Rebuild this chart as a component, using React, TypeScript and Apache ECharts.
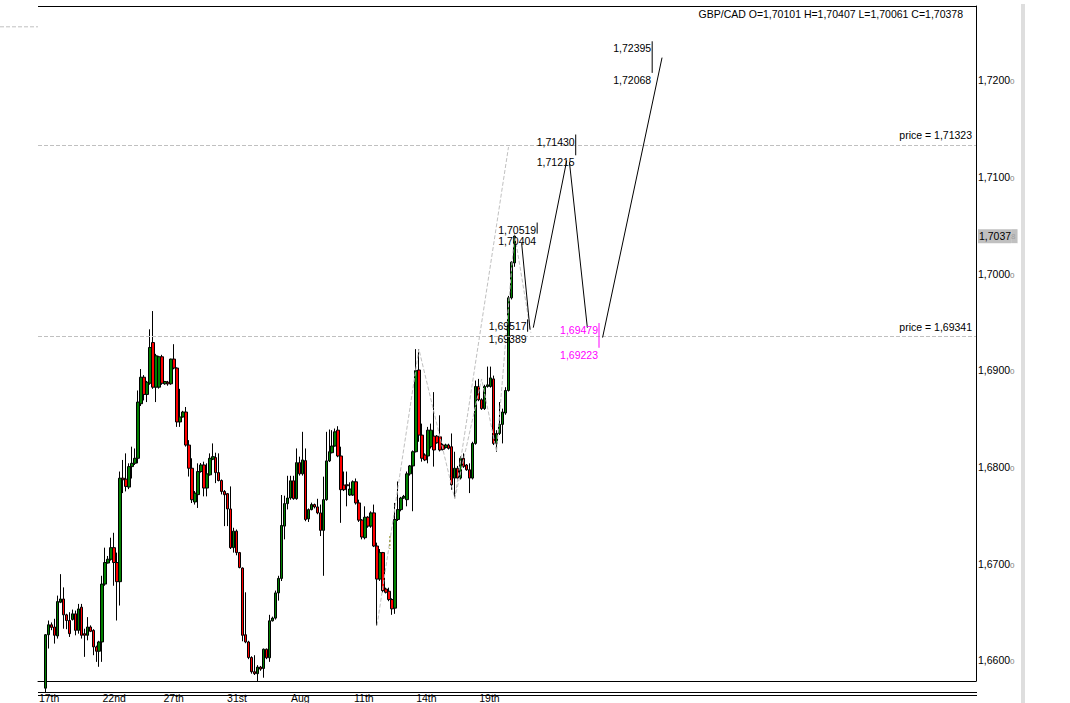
import React, { useEffect, useRef } from "react";
import * as echarts from "echarts";

// ---- data ----
const opens = [1.657,1.66253,1.66356,1.66333,1.6624,1.66589,1.66623,1.66459,1.664,1.66411,1.66469,1.66298,1.66538,1.66264,1.66247,1.66333,1.66298,1.66127,1.66082,1.66178,1.66777,1.66995,1.67034,1.67154,1.67,1.66802,1.67873,1.67863,1.67781,1.67993,1.68027,1.68079,1.68644,1.68918,1.6874,1.68856,1.69277,1.68815,1.68815,1.6913,1.6885,1.68866,1.6885,1.69106,1.69013,1.68455,1.68507,1.68558,1.68216,1.67976,1.67627,1.67703,1.67942,1.6801,1.67771,1.67908,1.6807,1.68086,1.67931,1.67849,1.67736,1.67713,1.67555,1.67154,1.67325,1.67103,1.66943,1.66253,1.66178,1.66017,1.6587,1.6585,1.65918,1.65904,1.66103,1.66014,1.66397,1.66425,1.66686,1.66836,1.67377,1.6761,1.67668,1.67846,1.67661,1.68034,1.67918,1.68055,1.67452,1.67548,1.676,1.67576,1.67514,1.67333,1.67651,1.68052,1.68137,1.68206,1.6837,1.68103,1.67802,1.67805,1.67699,1.67699,1.67836,1.67617,1.67439,1.67257,1.67469,1.67377,1.67514,1.67171,1.66829,1.67103,1.66726,1.66703,1.66617,1.66528,1.67446,1.67548,1.67668,1.67651,1.67918,1.68,1.68147,1.68993,1.68319,1.68113,1.68103,1.68199,1.68308,1.68308,1.68301,1.68216,1.68192,1.68216,1.68199,1.67874,1.67976,1.67874,1.68079,1.6801,1.6796,1.67874,1.68233,1.68822,1.68685,1.68593,1.68822,1.68822,1.68901,1.68233,1.68336,1.6843,1.68548,1.68781,1.6974,1.70101];
const closes = [1.66253,1.66356,1.66329,1.66247,1.66596,1.66623,1.66459,1.664,1.66264,1.66469,1.66298,1.6652,1.66247,1.66247,1.66333,1.66288,1.66127,1.66082,1.66178,1.66777,1.67,1.67034,1.67154,1.67,1.66802,1.67873,1.67857,1.67788,1.67993,1.68027,1.68079,1.68661,1.68918,1.6874,1.68866,1.69226,1.68815,1.6914,1.6913,1.68856,1.68874,1.6885,1.69106,1.69013,1.68455,1.68507,1.68558,1.68216,1.67976,1.6765,1.67719,1.67942,1.6801,1.67771,1.67918,1.68079,1.68096,1.67931,1.67849,1.67736,1.67702,1.67555,1.67154,1.67325,1.67103,1.66949,1.66247,1.66178,1.66017,1.6587,1.6585,1.65918,1.65897,1.66103,1.66014,1.66397,1.66425,1.66686,1.66836,1.67384,1.6761,1.67668,1.67846,1.67661,1.68034,1.67918,1.68062,1.67446,1.67548,1.676,1.67576,1.67514,1.67333,1.67651,1.68052,1.68147,1.68206,1.68353,1.68103,1.67754,1.67754,1.67795,1.67761,1.67836,1.67617,1.67439,1.67264,1.67469,1.67377,1.67514,1.67171,1.66829,1.67103,1.66709,1.66692,1.66617,1.66521,1.67446,1.67548,1.67668,1.67685,1.67918,1.68,1.68147,1.68986,1.68319,1.68079,1.68062,1.6837,1.6837,1.68165,1.6824,1.68165,1.68172,1.68216,1.68182,1.67805,1.67976,1.67874,1.68079,1.67993,1.6796,1.67874,1.68233,1.68822,1.68685,1.68593,1.68822,1.68839,1.68911,1.68233,1.68336,1.6843,1.68558,1.68781,1.6974,1.70109,1.70378];
const lows = [1.6565,1.6611,1.663,1.66161,1.66213,1.6658,1.66315,1.6631,1.6623,1.664,1.66247,1.66264,1.66213,1.66024,1.66195,1.6628,1.66041,1.65972,1.65921,1.65972,1.6676,1.6699,1.6702,1.6676,1.664,1.66555,1.67719,1.67736,1.6776,1.6787,1.6801,1.68027,1.6862,1.68678,1.68661,1.6884,1.68798,1.68661,1.688,1.6884,1.6884,1.6883,1.6884,1.69,1.68404,1.68404,1.685,1.682,1.6789,1.67616,1.676,1.67565,1.6793,1.67685,1.67685,1.679,1.6806,1.67822,1.6784,1.67705,1.67377,1.67377,1.6714,1.67103,1.67075,1.6694,1.66185,1.66165,1.66,1.6585,1.65836,1.65774,1.6588,1.65808,1.66,1.65972,1.6639,1.6641,1.66606,1.66809,1.6724,1.6755,1.6765,1.6765,1.6765,1.679,1.679,1.67428,1.6742,1.6754,1.6756,1.675,1.67274,1.66863,1.6764,1.6804,1.6813,1.682,1.6809,1.67411,1.6774,1.67582,1.6769,1.6769,1.676,1.6742,1.6724,1.6724,1.6736,1.6736,1.6716,1.66349,1.6681,1.6669,1.6668,1.666,1.66459,1.66469,1.6743,1.6753,1.6766,1.67582,1.679,1.67531,1.6814,1.6825,1.68044,1.6805,1.68027,1.6818,1.67993,1.6823,1.6815,1.6816,1.6818,1.6817,1.67754,1.67668,1.6786,1.6786,1.6798,1.6795,1.67719,1.6786,1.6822,1.6867,1.6858,1.6858,1.6881,1.6881,1.68216,1.68147,1.6832,1.68233,1.6853,1.6877,1.69723,1.70061];
const highs = [1.6626,1.664,1.6638,1.66418,1.66658,1.6688,1.66743,1.6647,1.66486,1.66513,1.66503,1.66572,1.66572,1.66315,1.66435,1.6635,1.6631,1.6614,1.6619,1.66863,1.67154,1.67068,1.67257,1.67308,1.67103,1.67942,1.68062,1.6813,1.68027,1.68199,1.68181,1.68781,1.69003,1.6894,1.6888,1.69414,1.69603,1.6916,1.6914,1.6915,1.6888,1.6888,1.6911,1.6926,1.6902,1.68798,1.6857,1.6861,1.68267,1.68079,1.6774,1.68027,1.6803,1.68044,1.68027,1.6813,1.68233,1.68137,1.6813,1.6786,1.6775,1.6772,1.67788,1.6736,1.67342,1.6711,1.6695,1.66692,1.6619,1.6603,1.66041,1.65938,1.6593,1.6611,1.6611,1.66459,1.6644,1.6671,1.66863,1.67699,1.67692,1.67898,1.67898,1.67898,1.68181,1.68096,1.68353,1.68181,1.6756,1.6762,1.6761,1.6766,1.676,1.67889,1.68353,1.68377,1.6837,1.68387,1.68411,1.68199,1.67942,1.67942,1.6783,1.6785,1.6787,1.67651,1.6745,1.67582,1.6748,1.6753,1.676,1.67206,1.6714,1.6711,1.6674,1.6674,1.6663,1.67617,1.67839,1.6768,1.677,1.67942,1.6801,1.6816,1.69209,1.69209,1.68438,1.6813,1.68404,1.68438,1.68764,1.6832,1.68524,1.6823,1.6823,1.6823,1.68336,1.68147,1.68,1.681,1.6813,1.6802,1.68027,1.6825,1.68884,1.68901,1.687,1.6884,1.69028,1.69028,1.68935,1.6837,1.68661,1.68593,1.68815,1.6976,1.70119,1.70407];

const xLabelPos = [-2.2, 19.1, 39.5, 60.8, 82.2, 103.3, 124.1, 145.2];
const xLabelText = ["17th", "22nd", "27th", "31st", "Aug", "11th", "14th", "19th"];
const yTicks = [1.66, 1.67, 1.68, 1.69, 1.7, 1.71, 1.72];
const lastClose = 1.70378;
const priceLevels = [1.71323, 1.69341];
const stubLevel = 1.72545;
const headerText = "GBP/CAD O=1,70101 H=1,70407 L=1,70061 C=1,70378";

// projection (dashed) polylines: [index, price]
const projA = [[111, 1.66349], [125, 1.69209], [137, 1.6766], [155, 1.713]];
const projB = [[137, 1.6766], [146, 1.689], [151, 1.68147], [157, 1.70407], [162.5, 1.6938]];
const oliveMark = [[115.3, 1.67274], [115.3, 1.6714]];

// forecast zigzag segments
const zigSegments = [
  [[159.4, 1.70305], [162.2, 1.69411]],
  [[163.3, 1.69431], [174.5, 1.71161]],
  [[175.4, 1.71144], [181.4, 1.69431]],
  [[186.5, 1.69329], [206.4, 1.72226]],
];

// level pairs with marker bars
const markIdx = [161.4, 164.6, 177.5, 185.3, 203.1];
const markHigh = [1.69517, 1.70519, 1.7143, 1.69479, 1.72395];
const markLow = [1.69389, 1.70404, 1.71215, 1.69223, 1.72068];
const markIsTarget = [false, false, false, true, false];

const FF = '"Liberation Sans", Arial, sans-serif';
const FONT = `10.5px ${FF}`;
const fmt = (v: number) => v.toFixed(5).replace(".", ",");

export default function App() {
  const ref = useRef<HTMLDivElement>(null);
  useEffect(() => {
    if (!ref.current) return;
    const chart = echarts.init(ref.current, undefined, { renderer: "svg" });
    const candles = opens.map((o, i) => [i, o, closes[i], lows[i], highs[i]]);
    const yLabelValues = [...yTicks, lastClose];

    const dashed = { color: "#c0c0c0", width: 1, type: [4, 2] as any };

    const option: any = {
      animation: false,
      backgroundColor: "#fff",
      grid: { left: 38, right: 94, top: 6, bottom: 17 },
      xAxis: {
        type: "value",
        min: -2.5,
        max: 311.5,
        axisLine: { show: true, onZero: false, lineStyle: { color: "#000", width: 1 } },
        axisTick: { show: false },
        splitLine: { show: false },
        axisLabel: {
          customValues: xLabelPos,
          align: "left",
          verticalAlign: "top",
          margin: 11,
          color: "#000",
          fontSize: 10.5,
          fontFamily: FF,
          formatter: (v: number) => {
            const k = xLabelPos.findIndex((p) => Math.abs(p - v) < 1e-6);
            return k >= 0 ? xLabelText[k] : "";
          },
        },
      },
      yAxis: {
        type: "value",
        position: "right",
        min: 1.65774,
        max: 1.727603,
        scale: true,
        axisLine: { show: true, onZero: false, lineStyle: { color: "#000", width: 1 } },
        axisTick: { show: false },
        splitLine: { show: false },
        axisLabel: {
          customValues: yLabelValues,
          margin: 2,
          formatter: (v: number) => {
            const s = fmt(v);
            if (Math.abs(v - lastClose) < 1e-7) {
              return `{c|${s.slice(0, -1)}}{d|${s.slice(-1)}}`;
            }
            return `{a|${s.slice(0, -1)}}{b|${s.slice(-1)}}`;
          },
          rich: {
            a: { fontSize: 10.5, fontFamily: FF, color: "#000", lineHeight: 13, verticalAlign: "bottom" },
            b: { fontSize: 8, fontFamily: FF, color: "#808080", lineHeight: 13, verticalAlign: "bottom" },
            c: { fontSize: 10.5, fontFamily: FF, color: "#000", lineHeight: 14, height: 14, backgroundColor: "#c0c0c0", verticalAlign: "bottom", padding: [0, 0, 0, 1] },
            d: { fontSize: 8, fontFamily: FF, color: "#a0a0a0", lineHeight: 14, height: 14, backgroundColor: "#c0c0c0", verticalAlign: "bottom", padding: [0, 2, 0, 0] },
          },
        },
      },
      series: [
        {
          type: "candlestick",
          data: candles,
          encode: { x: 0, y: [1, 2, 3, 4] },
          barWidth: 3,
          silent: true,
          itemStyle: {
            color: "#008000",
            color0: "#ff0000",
            borderColor: "#000",
            borderColor0: "#000",
            borderColorDoji: "#000",
            borderWidth: 1,
          },
          markLine: {
            silent: true,
            symbol: "none",
            precision: 5,
            lineStyle: dashed,
            label: {
              position: "insideEndTop",
              distance: 4,
              color: "#000",
              fontSize: 10.5,
              fontFamily: FF,
              formatter: (p: any) => `price = ${fmt(Number(p.value))}`,
            },
            data: priceLevels.map((v) => ({ yAxis: v })),
          },
        },
        {
          type: "line",
          data: projA,
          symbol: "none",
          silent: true,
          lineStyle: dashed,
          z: 5,
        },
        {
          type: "line",
          data: projB,
          symbol: "none",
          silent: true,
          lineStyle: dashed,
          z: 5,
        },
        {
          type: "line",
          data: oliveMark,
          symbol: "none",
          silent: true,
          lineStyle: { color: "#808000", width: 1, type: [2, 2] },
          z: 5,
        },
        ...zigSegments.map((seg) => ({
          type: "line",
          data: seg,
          symbol: "none",
          silent: true,
          lineStyle: { color: "#000", width: 1 },
          z: 6,
        })),
        {
          type: "custom",
          silent: true,
          z: 7,
          data: markIdx.map((x, i) => [x, markHigh[i], markLow[i]]),
          encode: { x: 0, y: [1, 2] },
          renderItem: (params: any, api: any) => {
            const i = params.dataIndex;
            const top = api.coord([api.value(0), api.value(1)]);
            const bot = api.coord([api.value(0), api.value(2)]);
            const col = markIsTarget[i] ? "#ff00ff" : "#000";
            return {
              type: "group",
              children: [
                { type: "line", shape: { x1: top[0], y1: top[1], x2: bot[0], y2: bot[1] }, style: { stroke: col, lineWidth: 1 } },
                { type: "text", x: top[0] - 1, y: top[1] + 1.5, style: { text: fmt(api.value(1)), fill: col, font: FONT, align: "right", verticalAlign: "top" } },
                { type: "text", x: bot[0] - 1, y: bot[1] + 1.5, style: { text: fmt(api.value(2)), fill: col, font: FONT, align: "right", verticalAlign: "top" } },
              ],
            };
          },
        },
      ],
    };
    chart.setOption(option);

    const yStub = chart.convertToPixel({ yAxisIndex: 0 }, stubLevel) as number;
    chart.setOption({
      graphic: [
        { type: "line", silent: true, shape: { x1: 0, y1: yStub, x2: 38, y2: yStub }, style: { stroke: "#c0c0c0", lineWidth: 1, lineDash: [4, 2] } },
        { type: "line", silent: true, shape: { x1: 38, y1: 6.5, x2: 976.5, y2: 6.5 }, style: { stroke: "#000", lineWidth: 1 } },
        { type: "line", silent: true, shape: { x1: 38, y1: 692.5, x2: 977, y2: 692.5 }, style: { stroke: "#000", lineWidth: 1 } },
        { type: "line", silent: true, shape: { x1: 38, y1: 695.5, x2: 977, y2: 695.5 }, style: { stroke: "#000", lineWidth: 1 } },
        { type: "rect", silent: true, shape: { x: 1021, y: 4, width: 4, height: 699 }, style: { fill: "#dedede" } },
        { type: "text", silent: true, x: 963, y: 8, style: { text: headerText, font: FONT, fill: "#000", align: "right", verticalAlign: "top" } },
      ],
    });

    return () => chart.dispose();
  }, []);
  return <div ref={ref} style={{ position: "absolute", left: 0, top: 0, width: 1070, height: 703 }} />;
}
